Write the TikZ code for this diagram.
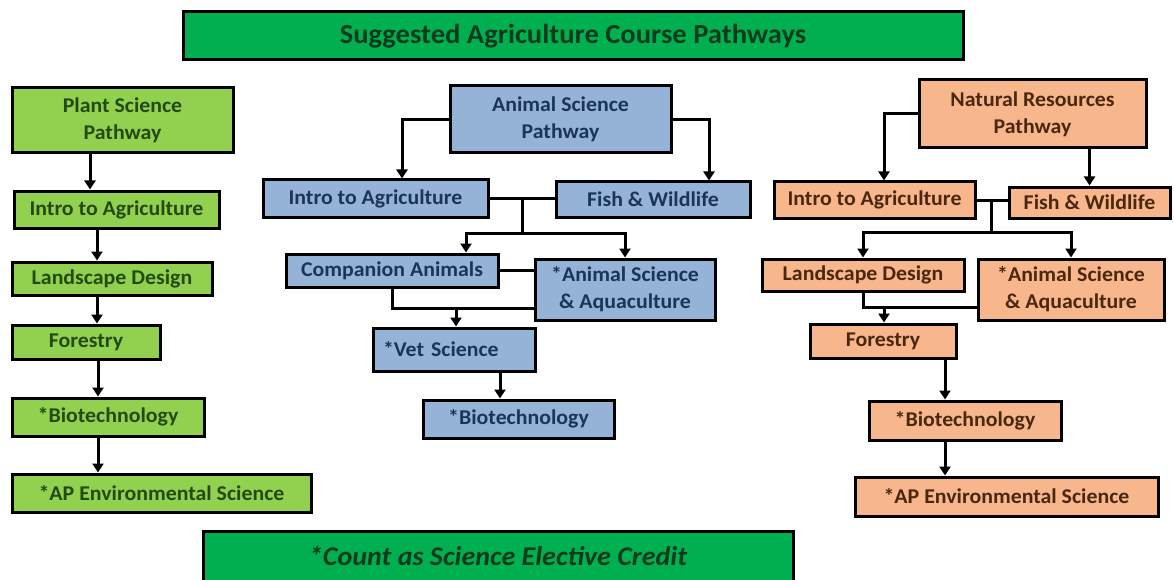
\documentclass[tikz,border=0pt]{standalone}
\usepackage{fontspec}
\setmainfont{Carlito}[FakeStretch=1.04]
\usetikzlibrary{arrows.meta}
\definecolor{titlegreen}{HTML}{00B050}
\definecolor{titledark}{HTML}{0B3A1C}
\definecolor{plantgreen}{HTML}{92D050}
\definecolor{plantdark}{HTML}{234A10}
\definecolor{animalblue}{HTML}{95B3D7}
\definecolor{animaldark}{HTML}{1B3558}
\definecolor{natorange}{HTML}{F7B68C}
\definecolor{natdark}{HTML}{4A2810}
\begin{document}
\begin{tikzpicture}[x=1pt,y=-1pt,
  cbox/.style={draw=black,line width=3pt,inner sep=0pt,align=center,font=\fontsize{21}{27}\selectfont\bfseries},
  plant/.style={cbox,fill=plantgreen,text=plantdark},
  animal/.style={cbox,fill=animalblue,text=animaldark},
  natural/.style={cbox,fill=natorange,text=natdark},
  link/.style={line width=3pt},
  arr/.style={link,-{Triangle[width=11pt,length=9pt]}}]
\useasboundingbox (0,0) rectangle (1174,580);
% title and footer
\node[cbox,fill=titlegreen,text=titledark,font=\fontsize{27.5}{30}\selectfont\bfseries,minimum width=780pt,minimum height=48pt] (title) at (573,36) {Suggested Agriculture Course Pathways};
\node[cbox,fill=titlegreen,text=titledark,font=\fontsize{27}{30}\selectfont\bfseries\itshape,minimum width=590pt,minimum height=50pt] (credit) at (498,556) {*Count as Science Elective Credit};
% plant science
\node[plant,minimum width=221pt,minimum height=65pt] (ps) at (122.5,120.5) {Plant Science\\Pathway};
\node[plant,minimum width=205pt,minimum height=37pt] (pi) at (116.5,209.5) {Intro to Agriculture};
\node[plant,minimum width=200pt,minimum height=33pt] (pl) at (112,278.5) {Landscape Design};
\node[plant,minimum width=148pt,minimum height=34pt] (pf) at (86,342) {Forestry};
\node[plant,minimum width=192pt,minimum height=38pt] (pb) at (108,417) {*Biotechnology};
\node[plant,minimum width=299pt,minimum height=38pt] (pa) at (161.5,493) {*AP Environmental Science};
\draw[arr] (ps.south -| 90,0) -- (pi.north -| 90,0);
\draw[arr] (pi.south -| 97,0) -- (pl.north -| 97,0);
\draw[arr] (pl.south -| 97,0) -- (pf.north -| 97,0);
\draw[arr] (pf.south -| 98,0) -- (pb.north -| 98,0);
\draw[arr] (pb.south -| 98,0) -- (pa.north -| 98,0);
% animal science
\node[animal,minimum width=221pt,minimum height=67pt] (as) at (560.5,119.5) {Animal Science\\Pathway};
\node[animal,minimum width=225pt,minimum height=37pt] (ai) at (375.5,198.5) {Intro to Agriculture};
\node[animal,minimum width=194pt,minimum height=35pt] (af) at (653,199.5) {Fish \& Wildlife};
\node[animal,minimum width=212pt,minimum height=33pt] (ac) at (392,270.5) {Companion Animals};
\node[animal,minimum width=180pt,minimum height=61pt] (aa) at (625,289.5) {*Animal Science\\\& Aquaculture};
\node[animal,text width=142pt,align=left,inner xsep=10pt,minimum height=43pt] (av) at (454,349.5) {*Vet Science};
\node[animal,minimum width=191pt,minimum height=38pt] (ab) at (518.5,419) {*Biotechnology};
\coordinate (aj) at (522,233);
\coordinate (ak) at (456,308);
\draw[arr] (as.west) -| ([xshift=26.5pt]ai.north);
\draw[arr] (as.east) -| ([xshift=56pt]af.north);
\draw[link] (ai.east) -- (ai.east -| af.west);
\draw[link] (ai.east -| aj) -- (aj);
\draw[arr] (aj) -| ([xshift=74pt]ac.north);
\draw[arr] (aj) -| (aa.north);
\draw[link] (ac.east) -- (ac.east -| aa.west);
\draw[link] (ac.south) |- (aa.west |- ak);
\draw[arr] (ak) -- (ak |- av.north);
\draw[arr] ([xshift=46pt]av.south) -- ([xshift=46pt]av.south |- ab.north);
% natural resources
\node[natural,minimum width=227pt,minimum height=68pt] (ns) at (1032.5,114) {Natural Resources\\Pathway};
\node[natural,minimum width=201pt,minimum height=36pt] (ni) at (874.5,200) {Intro to Agriculture};
\node[natural,minimum width=161pt,minimum height=31pt] (nf) at (1089.5,202.5) {Fish \& Wildlife};
\node[natural,minimum width=202pt,minimum height=32pt] (nl) at (863,275) {Landscape Design};
\node[natural,minimum width=186pt,minimum height=61pt] (na) at (1071,289.5) {*Animal Science\\\& Aquaculture};
\node[natural,minimum width=146pt,minimum height=34pt] (nfo) at (883,341) {Forestry};
\node[natural,minimum width=192pt,minimum height=39pt] (nb) at (965,420.5) {*Biotechnology};
\node[natural,minimum width=303pt,minimum height=39pt] (nap) at (1006.5,496.5) {*AP Environmental Science};
\coordinate (nj) at (991,232);
\coordinate (nk) at (884,307);
\draw[arr] (ns.west) -| ([xshift=9.5pt]ni.north);
\draw[arr] (nf.north |- ns.south) -- (nf.north);
\draw[link] (ni.east) -- (ni.east -| nf.west);
\draw[link] (ni.east -| nj) -- (nj);
\draw[arr] (nj) -| (nl.north);
\draw[arr] (nj) -| (na.north);
\draw[link] (nl.south) |- (na.west |- nk);
\draw[arr] (nk) -- (nk |- nfo.north);
\draw[arr] (nfo.south -| 945,0) -- (nb.north -| 945,0);
\draw[arr] (nb.south -| 945,0) -- (nap.north -| 945,0);
\end{tikzpicture}
\end{document}
